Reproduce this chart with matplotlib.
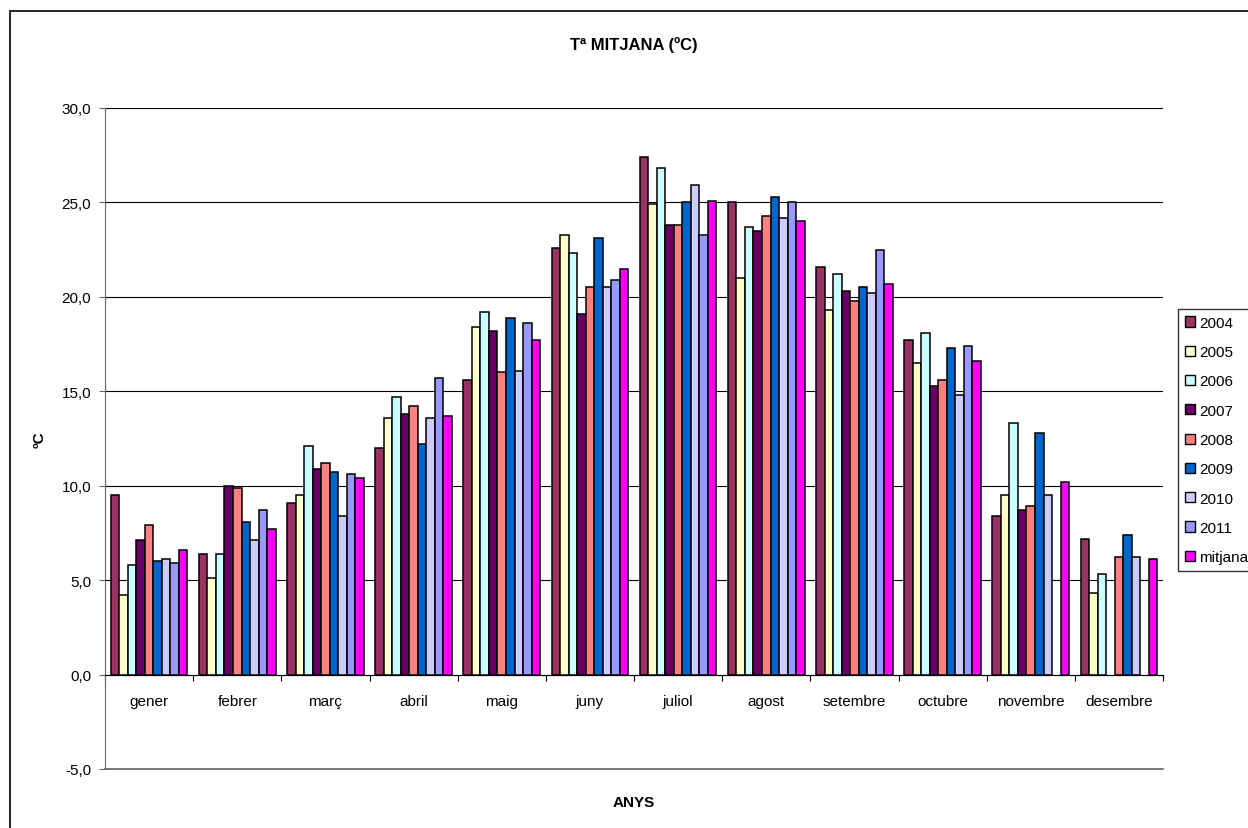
import matplotlib
matplotlib.use('Agg')
import matplotlib.pyplot as plt
import matplotlib.patches as mpatches
from matplotlib.ticker import FuncFormatter, FixedLocator
import numpy as np

plt.rcParams['font.family'] = ['Liberation Sans', 'DejaVu Sans']

# ── data ────────────────────────────────────────────────────────────────
months = ['gener', 'febrer', 'març', 'abril', 'maig', 'juny', 'juliol',
          'agost', 'setembre', 'octubre', 'novembre', 'desembre']
series = ['2004', '2005', '2006', '2007', '2008', '2009', '2010', '2011', 'mitjana']

t2004 = [9.5, 6.4, 9.1, 12.0, 15.6, 22.6, 27.4, 25.0, 21.6, 17.7, 8.4, 7.2]
t2005 = [4.2, 5.1, 9.5, 13.6, 18.4, 23.3, 24.9, 21.0, 19.3, 16.5, 9.5, 4.3]
t2006 = [5.8, 6.4, 12.1, 14.7, 19.2, 22.3, 26.8, 23.7, 21.2, 18.1, 13.3, 5.3]
t2007 = [7.1, 10.0, 10.9, 13.8, 18.2, 19.1, 23.8, 23.5, 20.3, 15.3, 8.7, np.nan]
t2008 = [7.9, 9.9, 11.2, 14.2, 16.0, 20.5, 23.8, 24.3, 19.8, 15.6, 8.9, 6.2]
t2009 = [6.0, 8.1, 10.7, 12.2, 18.9, 23.1, 25.0, 25.3, 20.5, 17.3, 12.8, 7.4]
t2010 = [6.1, 7.1, 8.4, 13.6, 16.1, 20.5, 25.9, 24.2, 20.2, 14.8, 9.5, 6.2]
t2011 = [5.9, 8.7, 10.6, 15.7, 18.6, 20.9, 23.3, 25.0, 22.5, 17.4, np.nan, np.nan]
mitjana = [6.6, 7.7, 10.4, 13.7, 17.7, 21.5, 25.1, 24.0, 20.7, 16.6, 10.2, 6.1]

values = [t2004, t2005, t2006, t2007, t2008, t2009, t2010, t2011, mitjana]
colors = ['#993366', '#FFFFCC', '#CCFFFF', '#660066', '#FF8080',
          '#0066CC', '#CCCCFF', '#9999FF', '#FF00FF']

# ── figure ──────────────────────────────────────────────────────────────
fig = plt.figure(figsize=(12.48, 8.29), dpi=100)
ax = fig.add_axes([105/1248, 1 - 770/829, (1163 - 105)/1248, (770 - 109)/829])

x = np.arange(len(months))
w = 0.0965
for i, (vals, col) in enumerate(zip(values, colors)):
    ax.bar(x + (i - 4) * w, vals, width=w, color=col, edgecolor='black',
           linewidth=1.1, zorder=3, label=series[i])

ax.set_xlim(-0.5, len(months) - 0.5)
ax.set_ylim(-5, 30)
ax.set_yticks(np.arange(-5, 31, 5))
ax.yaxis.set_major_formatter(FuncFormatter(lambda v, p: f'{v:.1f}'.replace('.', ',')))
ax.tick_params(axis='y', labelsize=11, length=4, color='#666666', pad=6)
ax.yaxis.grid(True, color='black', linewidth=0.8, zorder=0)

# category axis sits at 0
ax.spines['top'].set_visible(False)
ax.spines['right'].set_visible(False)
ax.spines['left'].set_color('#666666')
ax.spines['bottom'].set_position(('data', 0))
ax.spines['bottom'].set_color('black')
ax.xaxis.set_major_locator(FixedLocator(np.arange(-0.5, len(months), 1.0)))
ax.xaxis.set_minor_locator(FixedLocator(x))
ax.set_xticklabels([], minor=False)
ax.set_xticklabels(months, minor=True)
ax.tick_params(axis='x', which='major', length=4, direction='out', color='black')
ax.tick_params(axis='x', which='minor', length=0, labelsize=11, pad=14)

# bottom line at -5
ax.axhline(-5, color='#666666', linewidth=1.2, zorder=1, clip_on=False)

# titles
fig.text(634/1248, 1 - 45/829, 'Tª MITJANA (ºC)', ha='center', va='center',
         fontsize=12, fontweight='bold')
fig.text(40/1248, 1 - 440/829, 'ºC', ha='center', va='center', rotation=90,
         fontsize=11, fontweight='bold')
fig.text(634/1248, 1 - 803/829, 'ANYS', ha='center', va='center',
         fontsize=11, fontweight='bold')

# outer frame (cut at right and bottom like the original)
fig.patches.append(mpatches.Rectangle((10/1248, -0.1), 1.2, 1 - 12/829 + 0.1,
                                      transform=fig.transFigure, fill=False,
                                      edgecolor='black', linewidth=1.2))

# legend
handles = [mpatches.Patch(facecolor=c, edgecolor='black', linewidth=1.0, label=s)
           for c, s in zip(colors, series)]
leg = fig.legend(handles=handles, loc='upper left',
                 bbox_to_anchor=(1178/1248, 1 - 310/829), fontsize=11,
                 frameon=True, fancybox=False, shadow=False,
                 handlelength=0.65, handleheight=0.65, handletextpad=0.3,
                 labelspacing=1.0, borderpad=0.45, borderaxespad=0)
leg.get_frame().set_edgecolor('black')
leg.get_frame().set_linewidth(1.0)

fig.savefig('out.png', dpi=100)
